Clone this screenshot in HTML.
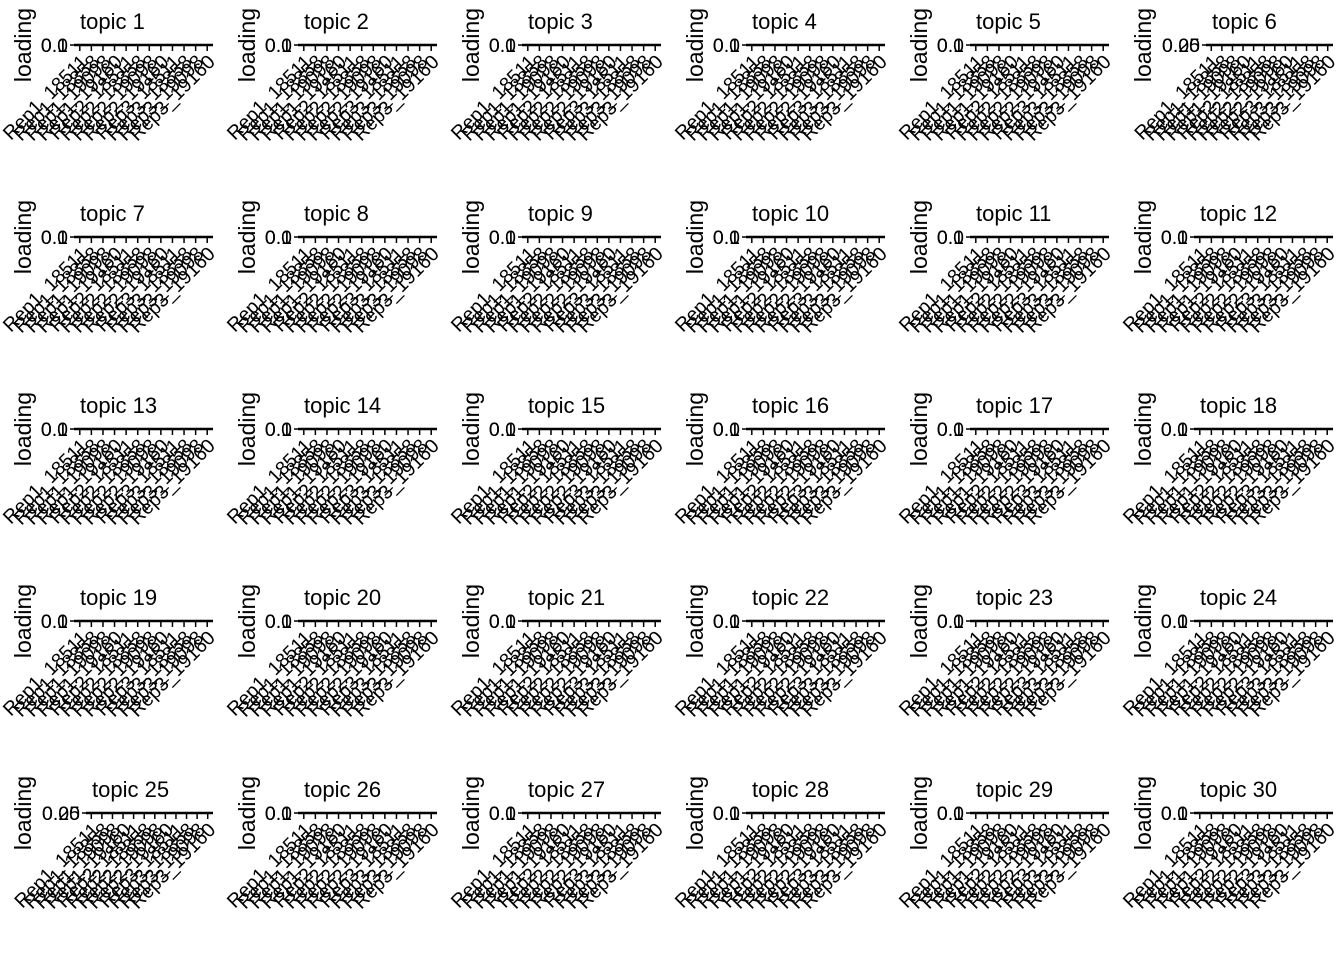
<!DOCTYPE html>
<html><head><meta charset="utf-8"><style>
html,body{margin:0;padding:0;background:#fff;width:1344px;height:960px;overflow:hidden}
svg{display:block;font-family:"Liberation Sans",Arial,sans-serif}
</style></head><body>
<svg id="chart" width="1344" height="960" xmlns="http://www.w3.org/2000/svg"></svg>
<script>
const categories = ["Rep1_18511","Rep1_18858","Rep1_19098","Rep1_19160","Rep2_18511","Rep2_18858","Rep2_19098","Rep2_19160","Rep3_18511","Rep3_18858","Rep3_19098","Rep3_19160"];
const topics = [];
for (let i = 1; i <= 30; i++) topics.push("topic " + i);
const loadings = topics.map(() => [0,0,0,0,0,0,0,0,0,0,0,0]);
const yTickLabels = ["0.0","0.1","0.2","0.3"];
const wideYTopics = [6, 25];

const NS = "http://www.w3.org/2000/svg";
const svg = document.getElementById("chart");
function mk(tag, attrs, parent){const e=document.createElementNS(NS,tag);for(const k in attrs)e.setAttribute(k,attrs[k]);parent.appendChild(e);return e;}

topics.forEach((t, idx) => {
  const col = idx % 6, row = Math.floor(idx / 6);
  const ox = col * 224, oy = row * 192;
  const g = mk("g", {transform:`translate(${ox},${oy})`}, svg);
  
  
  const wide = wideYTopics.includes(idx+1);
  const x0 = wide ? 86 : 74, x1 = 213, axisY = 45;
  const yl = mk("text", {x:0,y:0,"font-size":23,"text-anchor":"middle",transform:`translate(31,${axisY}) rotate(-90)`}, g);
  yl.textContent = "loading";
  
  
  const title = mk("text", {x:x0+6,y:29,"font-size":22}, g);
  title.textContent = t;
  
  
  yTickLabels.slice(0, 2).forEach(lbl => {
    const yt = mk("text", {x:x0-6,y:axisY+7,"font-size":19.5,"text-anchor":"end"}, g);
    yt.textContent = wide ? (lbl === "0.0" ? "0.00" : "0.25") : lbl;
    
    
  });
  mk("line", {x1:x0-4,x2:x0,y1:axisY,y2:axisY,stroke:"#000","stroke-width":1.5}, g);
  const axis = mk("line", {x1:x0,x2:x1,y1:axisY,y2:axisY,stroke:"#000","stroke-width":2.5}, g);
  
  
  const n = categories.length;
  const step = (x1 - x0) / n;
  const xOf = i => x0 + step * (i + 0.5);
  const vals = loadings[idx];
  const yScale = v => axisY - v * 1;
  categories.forEach((c, i) => {
    const x = xOf(i);
    const bar = mk("rect", {x:x-step*0.45,y:yScale(vals[i]),width:step*0.9,height:axisY-yScale(vals[i]),fill:"#555"}, g);
    
    
    mk("line", {x1:x,x2:x,y1:axisY,y2:axisY+6,stroke:"#000","stroke-width":1.5}, g);
    const lt = mk("text", {x:0,y:0,"font-size":19.5,"text-anchor":"end",transform:`translate(${x+9},${axisY+18}) rotate(-45)`}, g);
    lt.textContent = c;
    
    
  });
});
</script>
</body></html>
